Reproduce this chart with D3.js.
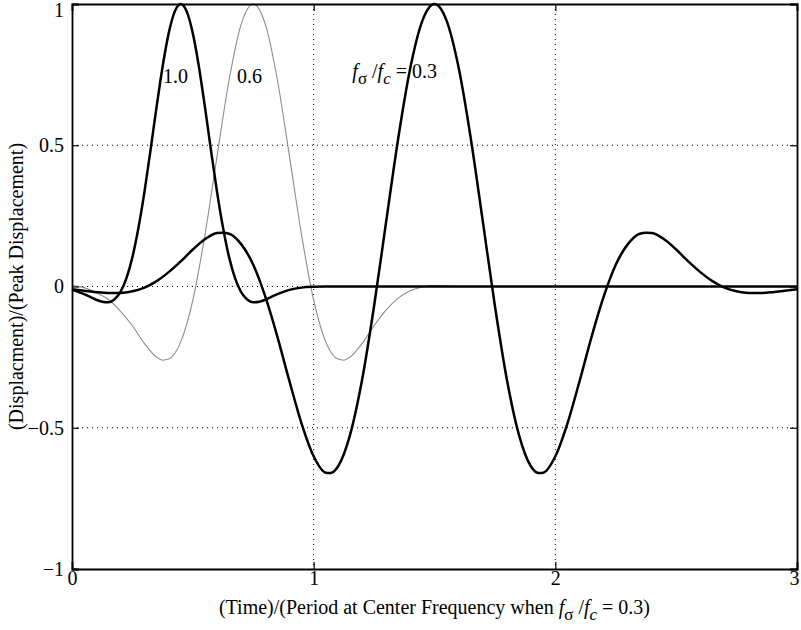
<!DOCTYPE html>
<html><head><meta charset="utf-8">
<script src="https://cdn.jsdelivr.net/npm/d3@7"></script>
<style>
html,body{margin:0;padding:0;background:#fff;}
text{font-family:"Liberation Serif","Times New Roman",serif;fill:#000;}
</style></head>
<body><svg id="c" width="801" height="630"></svg>
<script>
// x ticks and y ticks
const xTicks = [0, 1, 2, 3];
const yTicks = [-1, -0.5, 0, 0.5, 1];
const yTickLabels = ["\u22121", "\u22120.5", "0", "0.5", "1"];

// f_sigma/f_c = 1.0 (thick, narrow)
const t10 = [0, 0.025, 0.05, 0.075, 0.1, 0.125, 0.15, 0.175, 0.2, 0.225, 0.25, 0.275, 0.3, 0.325, 0.35, 0.375, 0.4, 0.425, 0.45,
  0.475, 0.5, 0.525, 0.55, 0.575, 0.6, 0.625, 0.65, 0.675, 0.7, 0.725, 0.75, 0.775, 0.8, 0.825, 0.85, 0.875, 0.9, 0.95, 1.0, 1.05, 3.0];
const v10 = [-0.012, -0.019, -0.027, -0.037, -0.047, -0.054, -0.056, -0.046, -0.020, 0.029, 0.104, 0.208, 0.336, 0.483, 0.636, 0.779, 0.896, 0.973, 1.0,
  0.973, 0.896, 0.779, 0.636, 0.483, 0.336, 0.208, 0.104, 0.029, -0.020, -0.046, -0.056, -0.054, -0.047, -0.037, -0.027, -0.019, -0.012, -0.004, -0.001, 0, 0];

// f_sigma/f_c = 0.6 (gray)
const t06 = [0, 0.05, 0.1, 0.15, 0.2, 0.25, 0.3, 0.35, 0.375, 0.4, 0.45, 0.5, 0.55, 0.6, 0.65, 0.7, 0.75,
  0.8, 0.85, 0.9, 0.95, 1.0, 1.05, 1.1, 1.125, 1.15, 1.2, 1.25, 1.3, 1.35, 1.4, 1.45, 1.5, 1.6, 3.0];
const v06 = [0.003, -0.004, -0.022, -0.045, -0.087, -0.139, -0.202, -0.250, -0.261, -0.257, -0.196, -0.048, 0.182, 0.460, 0.731, 0.928, 1.0,
  0.928, 0.731, 0.460, 0.182, -0.048, -0.196, -0.257, -0.261, -0.250, -0.202, -0.139, -0.083, -0.041, -0.015, -0.002, 0.003, 0, 0];

// f_sigma/f_c = 0.3 (thick, wide)
const t03 = [0, 0.05, 0.1, 0.15, 0.2, 0.25, 0.3, 0.35, 0.4, 0.45, 0.5, 0.55, 0.6, 0.625, 0.65, 0.7, 0.75, 0.8, 0.85, 0.9, 0.95,
  1.0, 1.05, 1.07, 1.1, 1.15, 1.2, 1.25, 1.3, 1.35, 1.4, 1.45, 1.5, 1.55, 1.6, 1.65, 1.7, 1.75, 1.8, 1.85, 1.9, 1.93, 1.95,
  2.0, 2.05, 2.1, 2.15, 2.2, 2.25, 2.3, 2.35, 2.375, 2.4, 2.45, 2.5, 2.55, 2.6, 2.65, 2.7, 2.75, 2.8, 2.85, 2.9, 2.95, 3.0];
const v03 = [-0.010, -0.015, -0.020, -0.023, -0.023, -0.017, -0.004, 0.019, 0.051, 0.089, 0.131, 0.167, 0.189, 0.190, 0.187, 0.150, 0.077, -0.036, -0.178, -0.336, -0.485,
  -0.601, -0.659, -0.660, -0.638, -0.527, -0.332, -0.069, 0.230, 0.525, 0.774, 0.941, 1.0, 0.941, 0.774, 0.525, 0.230, -0.069, -0.332, -0.527, -0.638, -0.660, -0.659,
  -0.601, -0.485, -0.336, -0.178, -0.036, 0.077, 0.150, 0.187, 0.190, 0.189, 0.167, 0.131, 0.089, 0.051, 0.019, -0.004, -0.017, -0.023, -0.023, -0.020, -0.015, -0.010];

const FONT = '"Liberation Serif","Times New Roman",serif';
const svg = d3.select("#c");
const L = 72, R = 797, T = 4, B = 569;
const x = d3.scaleLinear().domain([0, 3]).range([L, R]);
const y = d3.scaleLinear().domain([-1, 1]).range([B, T]);

// grid
const grid = svg.append("g").attr("stroke", "#000").attr("stroke-width", 1).attr("stroke-dasharray", "1,4");
grid.selectAll("line.gx").data(xTicks.filter(d => d > 0 && d < 3)).enter().append("line")
  .attr("x1", d => x(d)).attr("x2", d => x(d)).attr("y1", T).attr("y2", B);
grid.selectAll("line.gy").data(yTicks.filter(d => d > -1 && d < 1)).enter().append("line")
  .attr("y1", d => y(d)).attr("y2", d => y(d)).attr("x1", L).attr("x2", R);

// curves
const line = (ts, vs) => d3.line().curve(d3.curveMonotoneX).x((d, i) => x(ts[i])).y((d, i) => y(vs[i]))(vs);
svg.append("path").attr("d", line(t06, v06)).attr("fill", "none").attr("stroke", "#8c8c8c").attr("stroke-width", 1.1);
svg.append("path").attr("d", line(t03, v03)).attr("fill", "none").attr("stroke", "#000").attr("stroke-width", 2.5);
svg.append("path").attr("d", line(t10, v10)).attr("fill", "none").attr("stroke", "#000").attr("stroke-width", 2.5);

// axes (box)
const xb = svg.append("g").attr("transform", `translate(0,${B})`)
  .call(d3.axisBottom(x).tickValues(xTicks).tickSize(-7).tickFormat(d3.format("d")).tickPadding(4));
const xt = svg.append("g").attr("transform", `translate(0,${T})`)
  .call(d3.axisTop(x).tickValues(xTicks).tickSize(-7).tickFormat(""));
const yl = svg.append("g").attr("transform", `translate(${L},0)`)
  .call(d3.axisLeft(y).tickValues(yTicks).tickSize(-7).tickFormat((d, i) => yTickLabels[i]).tickPadding(8));
const yr = svg.append("g").attr("transform", `translate(${R},0)`)
  .call(d3.axisRight(y).tickValues(yTicks).tickSize(-7).tickFormat(""));
[xb, xt, yl, yr].forEach(g => {
  g.attr("font-family", FONT);
  g.select(".domain").attr("stroke", "#000").attr("stroke-width", 1.8);
  g.selectAll(".tick line").attr("stroke", "#000").attr("stroke-width", 1.2);
  g.selectAll("text").style("font-family", FONT).style("font-size", "20px").attr("fill", "#000");
});
xb.selectAll(".tick text").attr("dy", "0.62em");
xb.selectAll(".tick").filter(d => d === 3).select("text").attr("dx", -3);
yl.selectAll(".tick").filter(d => d === 1).select("text").attr("dy", "0.62em");

// x axis title
const xtitle = svg.append("text").attr("x", (L + R) / 2).attr("y", 614).attr("text-anchor", "middle").style("font-size", "20px");
xtitle.append("tspan").text("(Time)/(Period at Center Frequency when ");
xtitle.append("tspan").attr("font-style", "italic").text("f");
xtitle.append("tspan").attr("dy", 6).style("font-size", "17px").text("\u03c3");
xtitle.append("tspan").attr("dy", -6).text(" /");
xtitle.append("tspan").attr("font-style", "italic").text("f");
xtitle.append("tspan").attr("dy", 6).attr("font-style", "italic").style("font-size", "17px").text("c");
xtitle.append("tspan").attr("dy", -6).text(" = 0.3)");

// y axis title
svg.append("text").attr("transform", `translate(23,${(T + B) / 2}) rotate(-90)`)
  .attr("text-anchor", "middle").style("font-size", "20px").text("(Displacment)/(Peak Displacement)");

// annotations
svg.append("text").attr("x", 163).attr("y", 83).style("font-size", "20px").text("1.0");
svg.append("text").attr("x", 237).attr("y", 83).style("font-size", "20px").text("0.6");
const ann = svg.append("text").attr("x", 437).attr("y", 78).attr("text-anchor", "end").style("font-size", "20px");
ann.append("tspan").attr("font-style", "italic").text("f");
ann.append("tspan").attr("dy", 6).style("font-size", "17px").text("\u03c3");
ann.append("tspan").attr("dy", -6).text(" /");
ann.append("tspan").attr("font-style", "italic").text("f");
ann.append("tspan").attr("dy", 6).attr("font-style", "italic").style("font-size", "17px").text("c");
ann.append("tspan").attr("dy", -6).text(" = 0.3");
</script></body></html>
